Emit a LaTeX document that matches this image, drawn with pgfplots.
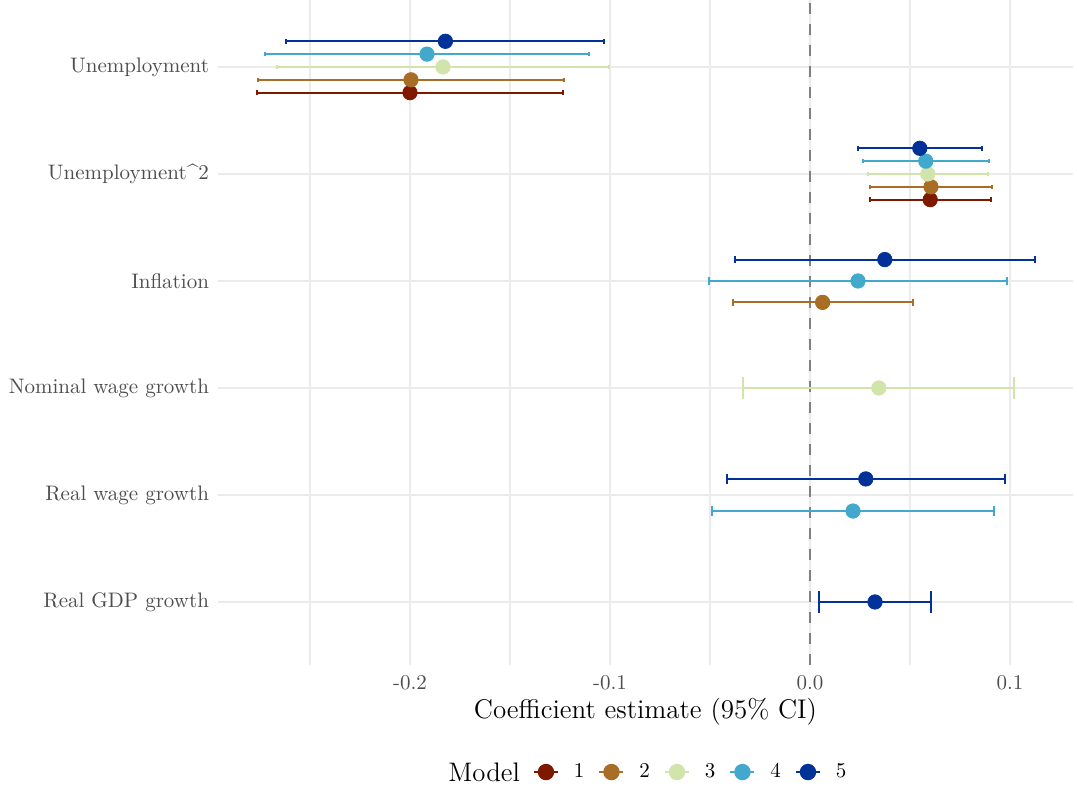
\documentclass[border=0pt]{standalone}
\usepackage{pgfplots}
\pgfplotsset{compat=1.18}
\definecolor{m1}{HTML}{7E1900}
\definecolor{m2}{HTML}{A86E25}
\definecolor{m3}{HTML}{D0E4AB}
\definecolor{m4}{HTML}{42A8CC}
\definecolor{m5}{HTML}{023198}
\definecolor{gridc}{HTML}{EBEBEB}
\definecolor{tickc}{HTML}{4D4D4D}
\pgfplotsset{
  ci/.style 2 args={forget plot, color=#1, line width=1pt, mark=|, mark size=#2,
    mark options={solid, line width=1pt}},
  pt/.style={forget plot, only marks, mark=*, mark size=3.6pt, color=#1},
}
\begin{document}
\begin{tikzpicture}
\useasboundingbox (0,0) rectangle (538.5pt,393pt);
\begin{axis}[
  at={(109pt,60.5pt)}, anchor=south west,
  scale only axis, width=427.5pt, height=332.5pt,
  xmin=-0.296, xmax=0.1315, ymin=0.411, ymax=6.626,
  unbounded coords=jump,
  axis line style={draw=none},
  major tick length=0pt, minor tick length=0pt,
  xtick={-0.2,-0.1,0,0.1},
  xticklabels={-0.2,-0.1,0.0,0.1},
  minor xtick={-0.25,-0.15,-0.05,0.05},
  ytick={1,2,3,4,5,6},
  yticklabels={Real GDP growth, Real wage growth, Nominal wage growth, Inflation, Unemployment\textasciicircum 2, Unemployment},
  xmajorgrids, ymajorgrids, xminorgrids,
  major grid style={gridc, line width=1pt},
  minor grid style={gridc, line width=0.55pt},
  ticklabel style={font=\fontsize{10.5}{12}\selectfont, text=tickc},
  xticklabel style={yshift=-1.5pt},
  yticklabel style={xshift=-1pt},
  xlabel={Coefficient estimate (95\% CI)},
  every axis x label/.style={at={(axis description cs:0.5,-0.0707)}, anchor=center, font=\fontsize{13.5}{15}\selectfont},
  legend columns=-1,
  legend style={at={(axis description cs:0.3684,-0.161)}, anchor=west, draw=none, fill=none,
    inner sep=0pt, outer sep=0pt,
    nodes={inner sep=0pt, font=\fontsize{10.5}{12}\selectfont},
    /tikz/every even column/.append style={column sep=7pt},
    /tikz/every odd column/.append style={column sep=7.5pt}},
  legend image code/.code={\draw[mark repeat=2,mark phase=2,#1] plot coordinates {(0pt,0pt) (6pt,0pt) (12pt,0pt)};},
]
% zero reference line
\addplot[forget plot, color=black!50, line width=1pt, dash pattern=on 5.5pt off 5pt] coordinates {(0,0.411) (0,6.626)};

% ---- confidence intervals (lower, y) (upper, y) ----
% Model 1
\addplot[ci={m1}{1.15pt}] coordinates {(-0.2763,5.76) (-0.1237,5.76) (nan,nan) (0.0299,4.76) (0.0903,4.76)};
% Model 2
\addplot[ci={m2}{1.15pt}] coordinates {(-0.2758,5.88) (-0.1232,5.88) (nan,nan) (0.0302,4.88) (0.0908,4.88)};
\addplot[ci={m2}{1.8pt}] coordinates {(-0.0387,3.8) (0.0513,3.8)};
% Model 3
\addplot[ci={m3}{1.15pt}] coordinates {(-0.2665,6.0) (-0.1005,6.0) (nan,nan) (0.0288,5.0) (0.0890,5.0)};
\addplot[ci={m3}{5.3pt}] coordinates {(-0.0334,3.0) (0.1022,3.0)};
% Model 4
\addplot[ci={m4}{1.15pt}] coordinates {(-0.2726,6.12) (-0.1104,6.12) (nan,nan) (0.0263,5.12) (0.0895,5.12)};
\addplot[ci={m4}{1.8pt}] coordinates {(-0.0504,4.0) (0.0984,4.0)};
\addplot[ci={m4}{2.7pt}] coordinates {(-0.0490,1.85) (0.0920,1.85)};
% Model 5
\addplot[ci={m5}{1.15pt}] coordinates {(-0.2618,6.24) (-0.1028,6.24) (nan,nan) (0.0238,5.24) (0.0860,5.24)};
\addplot[ci={m5}{1.8pt}] coordinates {(-0.0377,4.2) (0.1125,4.2)};
\addplot[ci={m5}{2.7pt}] coordinates {(-0.0415,2.15) (0.0973,2.15)};
\addplot[ci={m5}{5.3pt}] coordinates {(0.0047,1.0) (0.0603,1.0)};

% ---- point estimates ----
\addplot[pt=m1] coordinates {(-0.2000,5.76) (0.0601,4.76)};
\addplot[pt=m2] coordinates {(-0.1995,5.88) (0.0605,4.88) (0.0063,3.8)};
\addplot[pt=m3] coordinates {(-0.1835,6.0) (0.0589,5.0) (0.0344,3.0)};
\addplot[pt=m4] coordinates {(-0.1915,6.12) (0.0579,5.12) (0.0240,4.0) (0.0215,1.85)};
\addplot[pt=m5] coordinates {(-0.1823,6.24) (0.0549,5.24) (0.0374,4.2) (0.0279,2.15) (0.0325,1.0)};

\addlegendimage{m1, line width=1pt, mark=*, mark size=3.6pt}
\addlegendentry{1}
\addlegendimage{m2, line width=1pt, mark=*, mark size=3.6pt}
\addlegendentry{2}
\addlegendimage{m3, line width=1pt, mark=*, mark size=3.6pt}
\addlegendentry{3}
\addlegendimage{m4, line width=1pt, mark=*, mark size=3.6pt}
\addlegendentry{4}
\addlegendimage{m5, line width=1pt, mark=*, mark size=3.6pt}
\addlegendentry{5}
\end{axis}
\node[anchor=west, inner sep=0pt, font=\fontsize{13.4}{15}\selectfont] at (224pt,7pt) {Model};
\end{tikzpicture}
\end{document}
